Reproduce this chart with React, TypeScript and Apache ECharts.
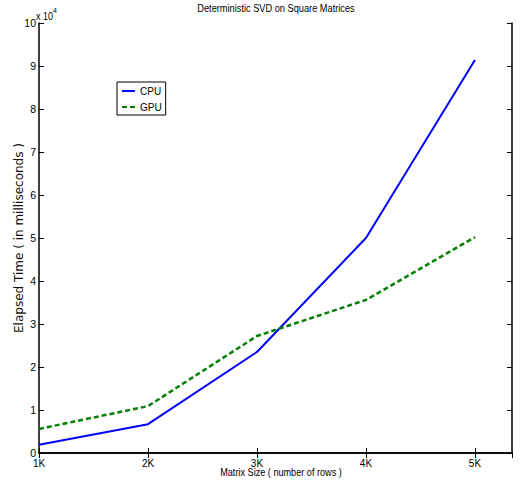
import React, { useEffect, useRef } from "react";
import * as echarts from "echarts";

const matrixSizes = [1, 2, 3, 4, 5];
const xTickLabels = ["1K", "2K", "3K", "4K", "5K"];
const cpuTimes = [1900, 6700, 23500, 50000, 91400];
const gpuTimes = [5600, 10900, 27200, 35600, 50200];

const sans = "'Liberation Sans', Arial, sans-serif";

export default function App() {
  const ref = useRef<HTMLDivElement>(null);
  useEffect(() => {
    if (!ref.current) return;
    const chart = echarts.init(ref.current, undefined, { renderer: "svg" });
    const tickFmt = (v: number) => {
      const i = matrixSizes.indexOf(v);
      return i >= 0 ? xTickLabels[i] : "";
    };
    chart.setOption({
      animation: false,
      backgroundColor: "#fff",
      legend: {
        left: 117,
        top: 82,
        orient: "vertical",
        borderColor: "#000",
        borderWidth: 1,
        padding: [4, 4, 3, 4],
        itemWidth: 13,
        itemHeight: 10,
        itemGap: 6,
        itemStyle: { opacity: 0 },
        textStyle: { fontFamily: sans, fontSize: 10, color: "#000" },
        data: ["CPU", "GPU"],
      },
      graphic: [
        {
          type: "text",
          x: 276,
          y: 8,
          scaleX: 0.84,
          style: {
            text: "Deterministic SVD on Square Matrices",
            fontFamily: sans,
            fontSize: 11,
            fill: "#000",
            textAlign: "center",
            textVerticalAlign: "middle",
          },
        },
        {
          type: "text",
          x: 281,
          y: 472,
          scaleX: 0.83,
          style: {
            text: "Matrix Size ( number of rows )",
            fontFamily: sans,
            fontSize: 11,
            fill: "#000",
            textAlign: "center",
            textVerticalAlign: "middle",
          },
        },
        {
          type: "text",
          x: 36,
          y: 16,
          scaleX: 0.85,
          style: { text: "x 10", fontFamily: sans, fontSize: 10.5, fill: "#000", textVerticalAlign: "middle" },
        },
        {
          type: "text",
          x: 53,
          y: 10,
          style: { text: "4", fontFamily: sans, fontSize: 7, fill: "#000", textVerticalAlign: "middle" },
        },
      ],
      grid: { left: 39, right: 9, top: 23, bottom: 36, containLabel: false, outerBoundsMode: "none" },
      xAxis: [
        {
          type: "value",
          min: 1,
          max: 5.34,
          interval: 1,
          position: "bottom",
          axisLine: { lineStyle: { color: "#000", width: 1.5 } },
          axisTick: { inside: true, length: 5, lineStyle: { color: "#000" } },
          axisLabel: { formatter: tickFmt, fontFamily: sans, fontSize: 10, color: "#000", margin: 5, showMaxLabel: false },
          splitLine: { show: false },
        },
        {
          type: "value",
          min: 1,
          max: 5.34,
          interval: 1,
          position: "top",
          axisLine: { lineStyle: { color: "#000", width: 1.5 } },
          axisTick: { inside: true, length: 5, lineStyle: { color: "#000" } },
          axisLabel: { show: false },
          splitLine: { show: false },
        },
      ],
      yAxis: [
        {
          type: "value",
          min: 0,
          max: 100000,
          interval: 10000,
          position: "left",
          name: "Elapsed Time ( in milliseconds )",
          nameLocation: "middle",
          nameGap: 14,
          nameMoveOverlap: false,
          nameTextStyle: { fontFamily: "'DejaVu Sans', Arial, sans-serif", fontSize: 12, color: "#111" },
          axisLine: { lineStyle: { color: "#000", width: 1.5 } },
          axisTick: { inside: true, length: 5, lineStyle: { color: "#000" } },
          axisLabel: {
            formatter: (v: number) => String(v / 10000),
            fontFamily: sans,
            fontSize: 10.5,
            color: "#000",
            margin: 3,
          },
          splitLine: { show: false },
        },
        {
          type: "value",
          min: 0,
          max: 100000,
          interval: 10000,
          position: "right",
          axisLine: { lineStyle: { color: "#000", width: 1.5 } },
          axisTick: { inside: true, length: 5, lineStyle: { color: "#000" } },
          axisLabel: { show: false },
          splitLine: { show: false },
        },
      ],
      series: [
        {
          name: "CPU",
          type: "line",
          xAxisIndex: 0,
          yAxisIndex: 0,
          data: matrixSizes.map((x, i) => [x, cpuTimes[i]]),
          showSymbol: false,
          symbol: "none",
          lineStyle: { color: "#0000ff", width: 2 },
          itemStyle: { color: "#0000ff" },
        },
        {
          name: "GPU",
          type: "line",
          xAxisIndex: 0,
          yAxisIndex: 0,
          data: matrixSizes.map((x, i) => [x, gpuTimes[i]]),
          showSymbol: false,
          symbol: "none",
          lineStyle: { color: "#008000", width: 2.5, type: [5, 3] },
          itemStyle: { color: "#008000" },
        },
      ],
    });
    return () => chart.dispose();
  }, []);
  return <div ref={ref} style={{ width: 521, height: 489, position: "absolute", left: 0, top: 0 }} />;
}
